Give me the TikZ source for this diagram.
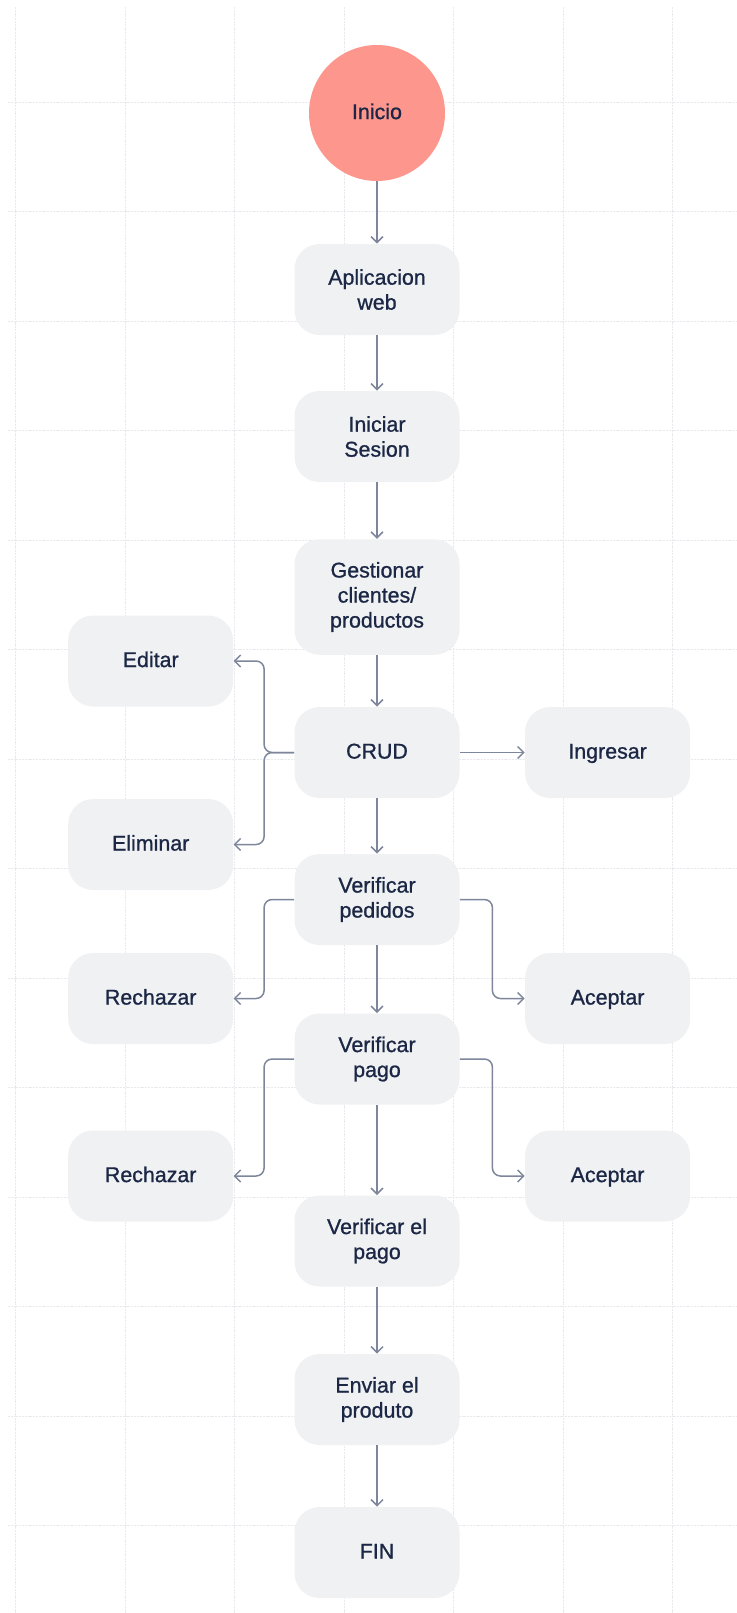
\documentclass[tikz,border=0pt]{standalone}
\usepackage{fontspec}
\setmainfont{Liberation Sans}
\newfontfamily\medfont{Liberation Sans}[FakeBold=0.9]
\usetikzlibrary{arrows.meta}
\definecolor{boxgray}{HTML}{F0F1F3}
\definecolor{salmon}{HTML}{FD978D}
\definecolor{ink}{HTML}{1B2744}
\definecolor{wire}{HTML}{7D869B}
\definecolor{gridline}{HTML}{E9E9EE}
\begin{document}
\begin{tikzpicture}[x=0.5pt,y=-0.5pt,
  txt/.style={text=ink,align=center,font=\medfont\fontsize{10.7pt}{12.5pt}\selectfont},
  box/.style={txt,fill=boxgray,rounded corners=12.5pt,minimum width=82.5pt,minimum height=45.5pt},
  oneline/.style={text height=1.6ex,text depth=0.45ex},
  flow/.style={draw=wire,line width=0.75pt,rounded corners=4pt,-{Straight Barb[length=3pt,width=6pt]}},
  gridln/.style={draw=gridline,line width=0.45pt,dash pattern=on 1pt off 0.4pt}]
\useasboundingbox (0,0) rectangle (737,1613);
\foreach \k in {0,...,6} \draw[gridln] ({15.5+109.5*\k},7) -- ({15.5+109.5*\k},1613);
\foreach \k in {0,...,13} \draw[gridln] (8,{102+109.5*\k}) -- (737,{102+109.5*\k});
\node[txt,oneline,circle,fill=salmon,minimum size=68pt] (inicio) at (377,113) {Inicio};
\node[box] (app) at (377,289.5) {Aplicacion\\web};
\node[box] (sesion) at (377,436.5) {Iniciar\\Sesion};
\node[box,minimum height=57.75pt] (gestion) at (377,597) {Gestionar\\clientes/\\productos};
\node[box,oneline] (crud) at (377,752.5) {CRUD};
\node[box,oneline] (editar) at (150.7,661) {Editar};
\node[box,oneline] (eliminar) at (150.7,844.5) {Eliminar};
\node[box,oneline] (ingresar) at (607.6,752.5) {Ingresar};
\node[box] (pedidos) at (377,899.5) {Verificar\\pedidos};
\node[box,oneline] (rechazoA) at (150.7,998.5) {Rechazar};
\node[box,oneline] (aceptoA) at (607.6,998.5) {Aceptar};
\node[box] (pago) at (377,1059) {Verificar\\pago};
\node[box,oneline] (rechazoB) at (150.7,1176) {Rechazar};
\node[box,oneline] (aceptoB) at (607.6,1176) {Aceptar};
\node[box] (verpago) at (377,1241) {Verificar el\\pago};
\node[box] (enviar) at (377,1399.5) {Enviar el\\produto};
\node[box,oneline] (fin) at (377,1552.5) {FIN};
\draw[flow] (inicio) -- (app);
\draw[flow] (app) -- (sesion);
\draw[flow] (sesion) -- (gestion);
\draw[flow] (gestion) -- (crud);
\draw[flow] (crud) -- (pedidos);
\draw[flow] (pedidos) -- (pago);
\draw[flow] (pago) -- (verpago);
\draw[flow] (verpago) -- (enviar);
\draw[flow] (enviar) -- (fin);
\draw[flow] (crud) -- (ingresar);
\draw[flow] (crud.west) -- ++(-30,0) |- (editar.east);
\draw[flow] (crud.west) -- ++(-30,0) |- (eliminar.east);
\draw[flow] (pedidos.west) -- ++(-30,0) |- (rechazoA.east);
\draw[flow] (pedidos.east) -- ++(32.5,0) |- (aceptoA.west);
\draw[flow] (pago.west) -- ++(-30,0) |- (rechazoB.east);
\draw[flow] (pago.east) -- ++(32.5,0) |- (aceptoB.west);
\end{tikzpicture}
\end{document}
